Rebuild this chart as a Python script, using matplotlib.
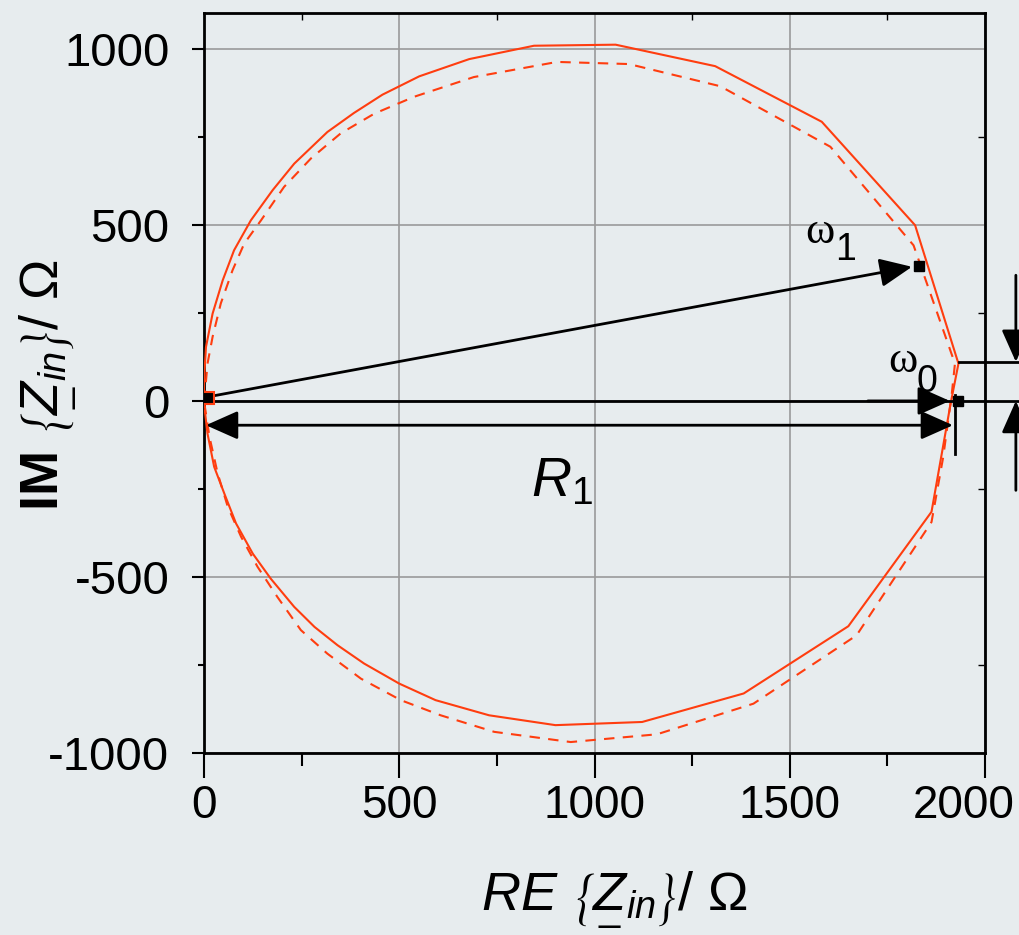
import numpy as np
import matplotlib.pyplot as plt
from matplotlib.ticker import MultipleLocator
from matplotlib.transforms import ScaledTranslation

plt.rcParams['font.family'] = ['Liberation Sans', 'DejaVu Sans']
plt.rcParams['mathtext.fontset'] = 'custom'
plt.rcParams['mathtext.rm'] = 'Liberation Sans'
plt.rcParams['mathtext.it'] = 'Liberation Sans:italic'
plt.rcParams['mathtext.bf'] = 'Liberation Sans:bold'
plt.rcParams['axes.unicode_minus'] = False

solid_re = [0, 0, 5, 22, 48, 77, 120, 176, 231, 316, 384, 457, 551, 679, 845, 1054,
            1309, 1582, 1821, 1932, 1912, 1863, 1650, 1382, 1122, 900, 730, 593, 500,
            410, 342, 283, 231, 171, 125, 82, 52, 26, 9, 2]
solid_im = [0, 59, 153, 248, 343, 428, 513, 599, 674, 764, 818, 870, 922, 971, 1009, 1012,
            951, 793, 499, 106, -7, -315, -640, -831, -912, -921, -893, -850, -803,
            -746, -694, -642, -585, -505, -434, -348, -263, -187, -93, -27]

# dashed locus
dashed_re = [0, 3, 9, 22, 43, 73, 103, 146, 205, 274, 350, 436, 538, 691, 904, 1088,
             1322, 1604, 1817, 1923, 1915, 1893, 1863, 1671, 1407, 1160, 939, 743, 606,
             504, 402, 316, 248, 188, 137, 95, 61, 35, 14, 5, 0]
dashed_im = [0, 30, 106, 182, 277, 371, 447, 513, 608, 689, 760, 816, 864, 920, 963, 957,
             894, 722, 442, 106, 21, -159, -344, -666, -860, -947, -969, -940, -893,
             -850, -789, -718, -651, -557, -471, -386, -301, -206, -102, -36, 0]

# marked points
w1_point = (1831, 384)
w0_point = (1931, 0)
R1_value = 1918

x_ticks = [0, 500, 1000, 1500, 2000]
y_ticks = [-1000, -500, 0, 500, 1000]

RED = '#ff3d0f'
BG = '#e7ecee'

fig = plt.figure(figsize=(10.2, 9.35), dpi=100, facecolor=BG)
ax = fig.add_axes([0.2, 0.1947, 0.7657, 0.7914], facecolor=BG)

ax.plot(solid_re, solid_im, color=RED, lw=1.5, zorder=3)
ax.plot(dashed_re, dashed_im, color=RED, lw=1.5, dashes=(5, 4), zorder=3)

arrow = dict(arrowstyle='-|>,head_length=0.9,head_width=0.4', color='k', lw=2,
             mutation_scale=22, shrinkA=0, shrinkB=0)
dbl = dict(arrow, arrowstyle='<|-|>,head_length=0.9,head_width=0.4')

# arrow to omega_1
ax.annotate('', xy=(w1_point[0] - 18, w1_point[1] - 3), xytext=(12, 12), arrowprops=arrow, zorder=5)
# real axis line with arrow to omega_0
ax.plot([0, 2100], [0, 0], color='k', lw=2, clip_on=False, zorder=4)
ax.annotate('', xy=(w0_point[0] - 21, 0), xytext=(1700, 0), arrowprops=arrow, zorder=5)
# R1 dimension arrow
ax.annotate('', xy=(5, -69), xytext=(R1_value, -69), arrowprops=dbl, zorder=5)
ax.plot([1923, 1923], [16, -150], color='k', lw=2, zorder=4)
# offset dimension on the right
ax.plot([1934, 2100], [111, 111], color='k', lw=2, clip_on=False, zorder=4)
ax.annotate('', xy=(2079, 111), xytext=(2079, 357), arrowprops=arrow,
            annotation_clip=False, zorder=5)
ax.annotate('', xy=(2079, 0), xytext=(2079, -254), arrowprops=arrow,
            annotation_clip=False, zorder=5)

ax.plot(*w1_point, 's', color='k', ms=7, zorder=6)
ax.plot(*w0_point, 's', color='k', ms=7, zorder=6)
ax.plot(10, 8, 's', mfc='k', mec=RED, ms=8, mew=1.5, zorder=6)

ax.text(1578, 480, 'ω', fontsize=32, family='Liberation Serif', ha='center', va='center')
ax.text(1642, 428, '1', fontsize=27, ha='center', va='center')
ax.text(1790, 113, 'ω', fontsize=32, family='Liberation Serif', ha='center', va='center')
ax.text(1852, 53, '0', fontsize=27, ha='center', va='center')
ax.text(916, -231, '$R_1$', fontsize=40, ha='center', va='center')

ax.set_xlim(0, 2000)
ax.set_ylim(-1000, 1102)
ax.set_xticks(x_ticks)
ax.set_yticks(y_ticks)
ax.xaxis.set_minor_locator(MultipleLocator(250))
ax.yaxis.set_minor_locator(MultipleLocator(250))
ax.grid(True, which='major', color='#9a9a9a', lw=1.2)
ax.set_axisbelow(True)

ax.tick_params(axis='x', which='major', direction='out', length=18, width=1.5,
               labelsize=33, pad=4)
ax.tick_params(axis='x', which='minor', direction='out', length=9, width=1.5)
ax.tick_params(axis='y', which='major', direction='out', length=9, width=1.5,
               labelsize=34, pad=16)
ax.tick_params(axis='y', which='minor', direction='out', length=4, width=1.5)
for s in ax.spines.values():
    s.set_linewidth(2)

for loc, t in zip(ax.yaxis.get_minorticklocs(), ax.yaxis.get_minor_ticks()):
    if loc < 0:
        t.tick1line.set_color(RED)

# small inward ticks on top and right
top = ax.secondary_xaxis('top')
top.set_xticks([250, 750, 1250, 1750])
top.tick_params(direction='in', length=5, width=1, labeltop=False)
right = ax.secondary_yaxis('right')
right.set_yticks([750, 250, -250, -750])
right.tick_params(direction='in', length=5, width=1, labelright=False)

# last x label sits left of its tick in the reference
last = ax.xaxis.get_major_ticks()[len(x_ticks) - 1].label1
last.set_transform(last.get_transform() + ScaledTranslation(-0.21, 0, fig.dpi_scale_trans))

lab = r'$%s\ \left\{\underset{\_}{Z}_{in}\right\}/\ \Omega$'
ax.set_xlabel(lab % 'RE', fontsize=39)
ax.xaxis.set_label_coords(0.525, -0.158)
ax.set_ylabel(lab % r'\mathbf{IM}', fontsize=39)
ax.yaxis.set_label_coords(-0.16, 0.497)

fig.savefig('out.png', dpi=100, facecolor=BG)
